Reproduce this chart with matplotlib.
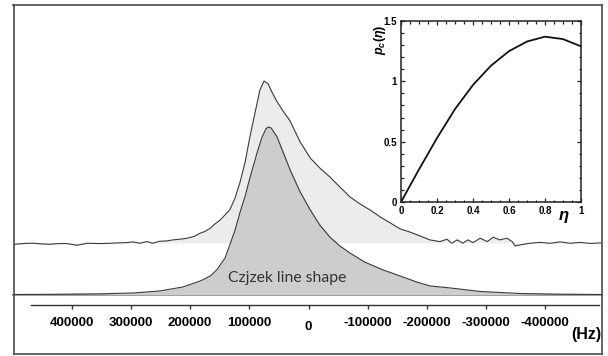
import matplotlib
matplotlib.use("Agg")
import matplotlib.pyplot as plt
from matplotlib.ticker import MultipleLocator
from matplotlib.transforms import ScaledTranslation

plt.rcParams['font.family'] = ['Liberation Sans', 'DejaVu Sans']
plt.rcParams['mathtext.fontset'] = 'custom'
plt.rcParams['mathtext.it'] = 'Liberation Sans:italic:bold'
plt.rcParams['mathtext.rm'] = 'Liberation Sans:bold'
plt.rcParams['mathtext.bf'] = 'Liberation Sans:bold'

# ---------------- data ----------------
# experimental spectrum: frequency (Hz) and intensity (a.u., relative to its own baseline)
exp_freq = [496000, 479000, 465000, 450000, 437000, 423000, 408000, 391000, 374000, 352000,
            335000, 323000, 310000, 296000, 285000, 273000, 263000, 251000, 239000, 229000,
            217000, 205000, 193000, 183000, 175000, 166000, 158000, 149000, 141000, 133000,
            124000, 116000, 107000, 99000, 90000, 82000, 75000, 68000, 62000, 53000,
            43000, 31000, 14000, -3000, -19000, -36000, -53000, -70000, -87000, -104000,
            -121000, -138000, -155000, -171000, -188000, -205000, -222000, -234000, -242000, -251000,
            -261000, -269000, -278000, -290000, -302000, -312000, -323000, -335000, -344000, -349000,
            -357000, -374000, -391000, -408000, -425000, -442000, -459000, -476000, -494000]
exp_int = [-0.008, -0.003, -0.002, -0.006, -0.008, -0.004, -0.004, -0.014, -0.002, -0.004,
           -0.002, 0.000, 0.001, 0.006, -0.002, 0.008, -0.002, 0.010, 0.012, 0.018,
           0.022, 0.028, 0.039, 0.058, 0.068, 0.087, 0.113, 0.137, 0.167, 0.196,
           0.268, 0.357, 0.482, 0.631, 0.780, 0.911, 0.964, 0.946, 0.899, 0.840,
           0.785, 0.725, 0.600, 0.505, 0.446, 0.393, 0.333, 0.274, 0.232, 0.196,
           0.155, 0.119, 0.083, 0.065, 0.042, 0.018, 0.008, 0.022, -0.002, 0.018,
           -0.002, 0.018, 0.002, 0.028, 0.008, 0.034, 0.018, 0.028, 0.008, -0.018,
           -0.012, -0.002, 0.003, -0.002, 0.006, -0.002, 0.003, -0.003, 0.000]
exp_offset = 0.31

# Czjzek simulated line shape
czj_freq = [497000, 437000, 352000, 296000, 251000, 212000, 183000, 166000, 155000, 141000,
            133000, 124000, 116000, 107000, 99000, 87000, 79000, 72000, 68000, 63000,
            53000, 43000, 31000, 14000, -3000, -19000, -36000, -53000, -70000, -95000,
            -126000, -155000, -183000, -205000, -239000, -290000, -357000, -425000, -494000]
czj_int = [0.003, 0.004, 0.007, 0.012, 0.024, 0.048, 0.083, 0.113, 0.149, 0.220,
           0.298, 0.387, 0.488, 0.589, 0.696, 0.845, 0.935, 0.988, 1.000, 0.994,
           0.940, 0.851, 0.744, 0.613, 0.506, 0.417, 0.345, 0.292, 0.250, 0.196,
           0.149, 0.113, 0.077, 0.054, 0.042, 0.021, 0.009, 0.005, 0.003]

freq_ticks = [400000, 300000, 200000, 100000, 0, -100000, -200000, -300000, -400000]
freq_labels = ['400000', '300000', '200000', '100000', '0',
               '-100000', '-200000', '-300000', '-400000']

# inset: p_c(eta)
eta = [0, 0.1, 0.2, 0.3, 0.4, 0.5, 0.6, 0.7, 0.8, 0.9, 1.0]
p_eta = [0, 0.27, 0.53, 0.77, 0.97, 1.13, 1.25, 1.33, 1.37, 1.35, 1.29]
eta_ticks = [0, 0.2, 0.4, 0.6, 0.8, 1.0]
eta_labels = ['0', '0.2', '0.4', '0.6', '0.8', '1']
p_ticks = [0, 0.5, 1.0, 1.5]
p_labels = ['0', '0.5', '1', '1.5']

# ---------------- figure ----------------
W, H = 608, 356
fig = plt.figure(figsize=(W / 100, H / 100), dpi=100)

def fx(px):
    return px / W

def fy(py):
    return 1 - py / H

line_col = '#3a3a3a'
frame_col = '#4a4a4a'

# spectrum panel
ax = fig.add_axes([fx(13.5), fy(295), fx(601.5) - fx(13.5), fy(5) - fy(295)])
ax.set_xlim(498300, -494900)
ax.set_ylim(0, 1.726)
for s in ax.spines.values():
    s.set_color(frame_col)
    s.set_linewidth(1.2)
ax.spines['bottom'].set_linewidth(1.1)
ax.set_xticks([])
ax.set_yticks([])

exp_y = [v + exp_offset for v in exp_int]
ax.fill_between(exp_freq, exp_offset, exp_y, color='#ececec', lw=0, zorder=1)
ax.plot(exp_freq, exp_y, color=line_col, lw=0.8, zorder=2)
ax.fill_between(czj_freq, 0, czj_int, color='#cdcdcd', lw=0, zorder=3)
ax.plot(czj_freq, czj_int, color=line_col, lw=0.8, zorder=4)
ax.text(0.466, 0.058, 'Czjzek line shape', transform=ax.transAxes, ha='center', va='center',
        fontsize=11.3, family=['Lato', 'DejaVu Sans'], color='#333333', zorder=5)

# lower panel frame
axb = fig.add_axes([fx(13.5), fy(353.5), fx(601.5) - fx(13.5), fy(295) - fy(353.5)])
axb.patch.set_visible(False)
axb.set_xticks([])
axb.set_yticks([])
axb.spines['top'].set_visible(False)
for s in ['left', 'right', 'bottom']:
    axb.spines[s].set_color(frame_col)
    axb.spines[s].set_linewidth(1.2)

# frequency axis
axf = fig.add_axes([fx(30.7), fy(304.7), fx(599) - fx(30.7), 0.0001])
axf.set_xlim(469260, -490710)
axf.patch.set_visible(False)
for s in ['left', 'top', 'right']:
    axf.spines[s].set_visible(False)
axf.spines['bottom'].set_color('#333333')
axf.spines['bottom'].set_linewidth(1.0)
axf.set_yticks([])
axf.set_xticks(freq_ticks)
axf.set_xticklabels(freq_labels, fontsize=9.5, fontweight='bold')
axf.tick_params(axis='x', direction='out', length=3.2, width=1.0, color='#333333', pad=5.5)
for lab in axf.get_xticklabels():
    if lab.get_text() == '0':
        lab.set_transform(lab.get_transform() + ScaledTranslation(0, -3 / 72, fig.dpi_scale_trans))
fig.text(fx(586), fy(334), '(Hz)', ha='center', va='center', fontsize=11.5, fontweight='bold')

# inset
axi = fig.add_axes([fx(401), fy(202), fx(581) - fx(401), fy(21) - fy(202)])
axi.plot(eta, p_eta, color='#111111', lw=1.3)
axi.set_xlim(0, 1)
axi.set_ylim(0, 1.5)
axi.set_xticks(eta_ticks)
axi.set_xticklabels(eta_labels)
axi.set_yticks(p_ticks)
axi.set_yticklabels(p_labels)
axi.xaxis.set_minor_locator(MultipleLocator(0.05))
axi.yaxis.set_minor_locator(MultipleLocator(0.1))
axi.tick_params(which='both', direction='in', top=True, right=True, width=0.9, color='#222222')
axi.tick_params(which='major', length=3, labelsize=7, pad=3)
axi.tick_params(which='minor', length=1.8)
for lab in axi.get_xticklabels() + axi.get_yticklabels():
    lab.set_fontweight('bold')
for s in axi.spines.values():
    s.set_linewidth(1.1)
    s.set_color('#222222')
fig.text(fx(380), fy(40), r'$p_c(\eta)$', rotation=90, ha='center', va='center', fontsize=9)
fig.text(fx(564), fy(217), r'$\eta$', ha='center', va='center', fontsize=12)

fig.savefig('out.png', dpi=100)
